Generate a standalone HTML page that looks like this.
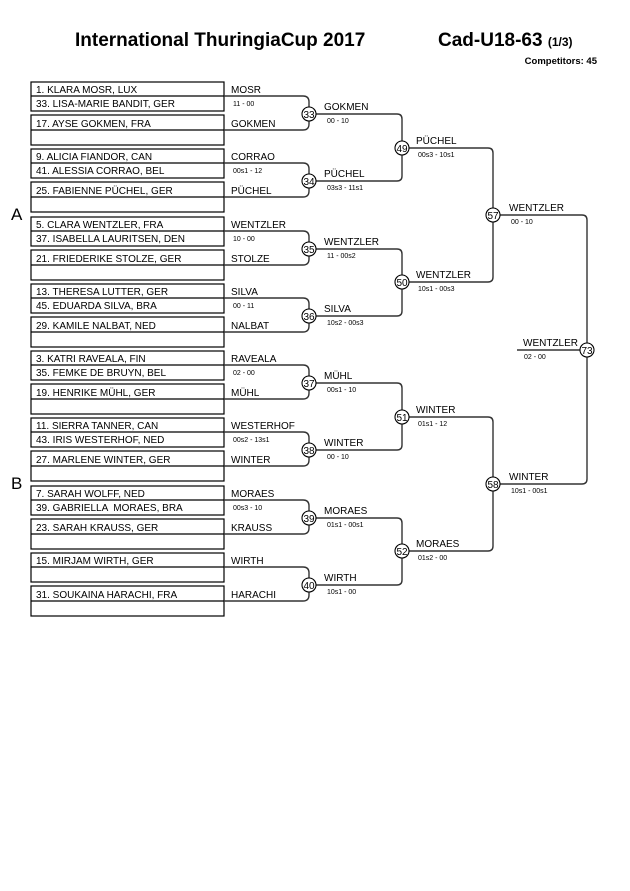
<!DOCTYPE html>
<html><head><meta charset="utf-8"><style>
html,body{margin:0;padding:0;background:#fff;}
svg{display:block;font-family:"Liberation Sans",Arial,sans-serif;}
.n{font-size:10px;fill:#000}
.s{font-size:7px;fill:#000}
.c{font-size:10px;text-anchor:middle;fill:#000}
</style></head><body>
<svg width="630" height="891" viewBox="0 0 630 891" xmlns="http://www.w3.org/2000/svg">
<rect width="630" height="891" fill="#fff"/>
<text x="75" y="46" font-size="19" font-weight="bold">International ThuringiaCup 2017</text>
<text x="438" y="46" font-size="19" font-weight="bold">Cad-U18-63 <tspan font-size="12">(1/3)</tspan></text>
<text x="597" y="64" font-size="9.5" font-weight="bold" text-anchor="end">Competitors: 45</text>
<text x="11" y="220" font-size="17">A</text>
<text x="11" y="489" font-size="17">B</text>

<g fill="none" stroke="#000" stroke-width="1.2">
<!-- boxes -->
<rect x="31" y="82" width="193" height="29"/><line x1="31" y1="96" x2="224" y2="96"/>
<rect x="31" y="115" width="193" height="30"/><line x1="31" y1="130" x2="224" y2="130"/>
<rect x="31" y="149" width="193" height="29"/><line x1="31" y1="163" x2="224" y2="163"/>
<rect x="31" y="182" width="193" height="30"/><line x1="31" y1="197" x2="224" y2="197"/>
<rect x="31" y="217" width="193" height="29"/><line x1="31" y1="231" x2="224" y2="231"/>
<rect x="31" y="250" width="193" height="30"/><line x1="31" y1="265" x2="224" y2="265"/>
<rect x="31" y="284" width="193" height="29"/><line x1="31" y1="298" x2="224" y2="298"/>
<rect x="31" y="317" width="193" height="30"/><line x1="31" y1="332" x2="224" y2="332"/>
<rect x="31" y="351" width="193" height="29"/><line x1="31" y1="365" x2="224" y2="365"/>
<rect x="31" y="384" width="193" height="30"/><line x1="31" y1="399" x2="224" y2="399"/>
<rect x="31" y="418" width="193" height="29"/><line x1="31" y1="432" x2="224" y2="432"/>
<rect x="31" y="451" width="193" height="30"/><line x1="31" y1="466" x2="224" y2="466"/>
<rect x="31" y="486" width="193" height="29"/><line x1="31" y1="500" x2="224" y2="500"/>
<rect x="31" y="519" width="193" height="30"/><line x1="31" y1="534" x2="224" y2="534"/>
<rect x="31" y="553" width="193" height="29"/><line x1="31" y1="567" x2="224" y2="567"/>
<rect x="31" y="586" width="193" height="30"/><line x1="31" y1="601" x2="224" y2="601"/>
</g>
<g fill="none" stroke="#333" stroke-width="1.4">
<!-- round1 -->
<path d="M224,96H303Q309,96 309,102V107M224,130H303Q309,130 309,124V121"/>
<path d="M224,163H303Q309,163 309,169V174M224,197H303Q309,197 309,191V188"/>
<path d="M224,231H303Q309,231 309,237V242M224,265H303Q309,265 309,259V256"/>
<path d="M224,298H303Q309,298 309,304V309M224,332H303Q309,332 309,326V323"/>
<path d="M224,365H303Q309,365 309,371V376M224,399H303Q309,399 309,393V390"/>
<path d="M224,432H303Q309,432 309,438V443M224,466H303Q309,466 309,460V457"/>
<path d="M224,500H303Q309,500 309,506V511M224,534H303Q309,534 309,528V525"/>
<path d="M224,567H303Q309,567 309,573V578M224,601H303Q309,601 309,595V592"/>
<!-- round2 -->
<path d="M316,114H397Q402,114 402,119V141M316,181H397Q402,181 402,176V155"/>
<path d="M316,249H397Q402,249 402,254V275M316,316H397Q402,316 402,311V289"/>
<path d="M316,383H397Q402,383 402,388V410M316,450H397Q402,450 402,445V424"/>
<path d="M316,518H397Q402,518 402,523V544M316,585H397Q402,585 402,580V558"/>
<!-- round3 -->
<path d="M409,148H488Q493,148 493,153V208M409,282H488Q493,282 493,277V222"/>
<path d="M409,417H488Q493,417 493,422V477M409,551H488Q493,551 493,546V491"/>
<!-- final -->
<path d="M500,215H582Q587,215 587,220V343M500,484H582Q587,484 587,479V357"/>
<path d="M517,350H580"/>
</g>
<g fill="#fff" stroke="#000" stroke-width="1.1">
<circle cx="309" cy="114" r="7"/><circle cx="309" cy="181" r="7"/><circle cx="309" cy="249" r="7"/><circle cx="309" cy="316" r="7"/>
<circle cx="309" cy="383" r="7"/><circle cx="309" cy="450" r="7"/><circle cx="309" cy="518" r="7"/><circle cx="309" cy="585" r="7"/>
<circle cx="402" cy="148" r="7"/><circle cx="402" cy="282" r="7"/><circle cx="402" cy="417" r="7"/><circle cx="402" cy="551" r="7"/>
<circle cx="493" cy="215" r="7"/><circle cx="493" cy="484" r="7"/><circle cx="587" cy="350" r="7"/>
</g>
<g class="c">
<text x="309" y="118" class="c">33</text><text x="309" y="185" class="c">34</text><text x="309" y="253" class="c">35</text><text x="309" y="320" class="c">36</text>
<text x="309" y="387" class="c">37</text><text x="309" y="454" class="c">38</text><text x="309" y="522" class="c">39</text><text x="309" y="589" class="c">40</text>
<text x="402" y="152" class="c">49</text><text x="402" y="286" class="c">50</text><text x="402" y="421" class="c">51</text><text x="402" y="555" class="c">52</text>
<text x="493" y="219" class="c">57</text><text x="493" y="488" class="c">58</text><text x="587" y="354" class="c">73</text>
</g>

<!-- names in boxes -->
<text class="n" x="36" y="93">1. KLARA MOSR, LUX</text>
<text class="n" x="36" y="107">33. LISA-MARIE BANDIT, GER</text>
<text class="n" x="36" y="127">17. AYSE GOKMEN, FRA</text>
<text class="n" x="36" y="160">9. ALICIA FIANDOR, CAN</text>
<text class="n" x="36" y="174">41. ALESSIA CORRAO, BEL</text>
<text class="n" x="36" y="194">25. FABIENNE PÜCHEL, GER</text>
<text class="n" x="36" y="228">5. CLARA WENTZLER, FRA</text>
<text class="n" x="36" y="242">37. ISABELLA LAURITSEN, DEN</text>
<text class="n" x="36" y="262">21. FRIEDERIKE STOLZE, GER</text>
<text class="n" x="36" y="295">13. THERESA LUTTER, GER</text>
<text class="n" x="36" y="309">45. EDUARDA SILVA, BRA</text>
<text class="n" x="36" y="329">29. KAMILE NALBAT, NED</text>
<text class="n" x="36" y="362">3. KATRI RAVEALA, FIN</text>
<text class="n" x="36" y="376">35. FEMKE DE BRUYN, BEL</text>
<text class="n" x="36" y="396">19. HENRIKE MÜHL, GER</text>
<text class="n" x="36" y="429">11. SIERRA TANNER, CAN</text>
<text class="n" x="36" y="443">43. IRIS WESTERHOF, NED</text>
<text class="n" x="36" y="463">27. MARLENE WINTER, GER</text>
<text class="n" x="36" y="497">7. SARAH WOLFF, NED</text>
<text class="n" x="36" y="511">39. GABRIELLA &#160;MORAES, BRA</text>
<text class="n" x="36" y="531">23. SARAH KRAUSS, GER</text>
<text class="n" x="36" y="564">15. MIRJAM WIRTH, GER</text>
<text class="n" x="36" y="598">31. SOUKAINA HARACHI, FRA</text>

<!-- right labels -->
<text class="n" x="231" y="93">MOSR</text><text class="s" x="233" y="106">11 - 00</text><text class="n" x="231" y="127">GOKMEN</text>
<text class="n" x="231" y="160">CORRAO</text><text class="s" x="233" y="173">00s1 - 12</text><text class="n" x="231" y="194">PÜCHEL</text>
<text class="n" x="231" y="228">WENTZLER</text><text class="s" x="233" y="241">10 - 00</text><text class="n" x="231" y="262">STOLZE</text>
<text class="n" x="231" y="295">SILVA</text><text class="s" x="233" y="308">00 - 11</text><text class="n" x="231" y="329">NALBAT</text>
<text class="n" x="231" y="362">RAVEALA</text><text class="s" x="233" y="375">02 - 00</text><text class="n" x="231" y="396">MÜHL</text>
<text class="n" x="231" y="429">WESTERHOF</text><text class="s" x="233" y="442">00s2 - 13s1</text><text class="n" x="231" y="463">WINTER</text>
<text class="n" x="231" y="497">MORAES</text><text class="s" x="233" y="510">00s3 - 10</text><text class="n" x="231" y="531">KRAUSS</text>
<text class="n" x="231" y="564">WIRTH</text><text class="n" x="231" y="598">HARACHI</text>

<!-- round1 winners -->
<text class="n" x="324" y="110">GOKMEN</text><text class="s" x="327" y="123">00 - 10</text>
<text class="n" x="324" y="177">PÜCHEL</text><text class="s" x="327" y="190">03s3 - 11s1</text>
<text class="n" x="324" y="245">WENTZLER</text><text class="s" x="327" y="258">11 - 00s2</text>
<text class="n" x="324" y="312">SILVA</text><text class="s" x="327" y="325">10s2 - 00s3</text>
<text class="n" x="324" y="379">MÜHL</text><text class="s" x="327" y="392">00s1 - 10</text>
<text class="n" x="324" y="446">WINTER</text><text class="s" x="327" y="459">00 - 10</text>
<text class="n" x="324" y="514">MORAES</text><text class="s" x="327" y="527">01s1 - 00s1</text>
<text class="n" x="324" y="581">WIRTH</text><text class="s" x="327" y="594">10s1 - 00</text>

<!-- round2 -->
<text class="n" x="416" y="144">PÜCHEL</text><text class="s" x="418" y="157">00s3 - 10s1</text>
<text class="n" x="416" y="278">WENTZLER</text><text class="s" x="418" y="291">10s1 - 00s3</text>
<text class="n" x="416" y="413">WINTER</text><text class="s" x="418" y="426">01s1 - 12</text>
<text class="n" x="416" y="547">MORAES</text><text class="s" x="418" y="560">01s2 - 00</text>
<!-- round3 -->
<text class="n" x="509" y="211">WENTZLER</text><text class="s" x="511" y="224">00 - 10</text>
<text class="n" x="509" y="480">WINTER</text><text class="s" x="511" y="493">10s1 - 00s1</text>
<!-- final -->
<text class="n" x="523" y="346">WENTZLER</text><text class="s" x="524" y="359">02 - 00</text>
</svg>
</body></html>
